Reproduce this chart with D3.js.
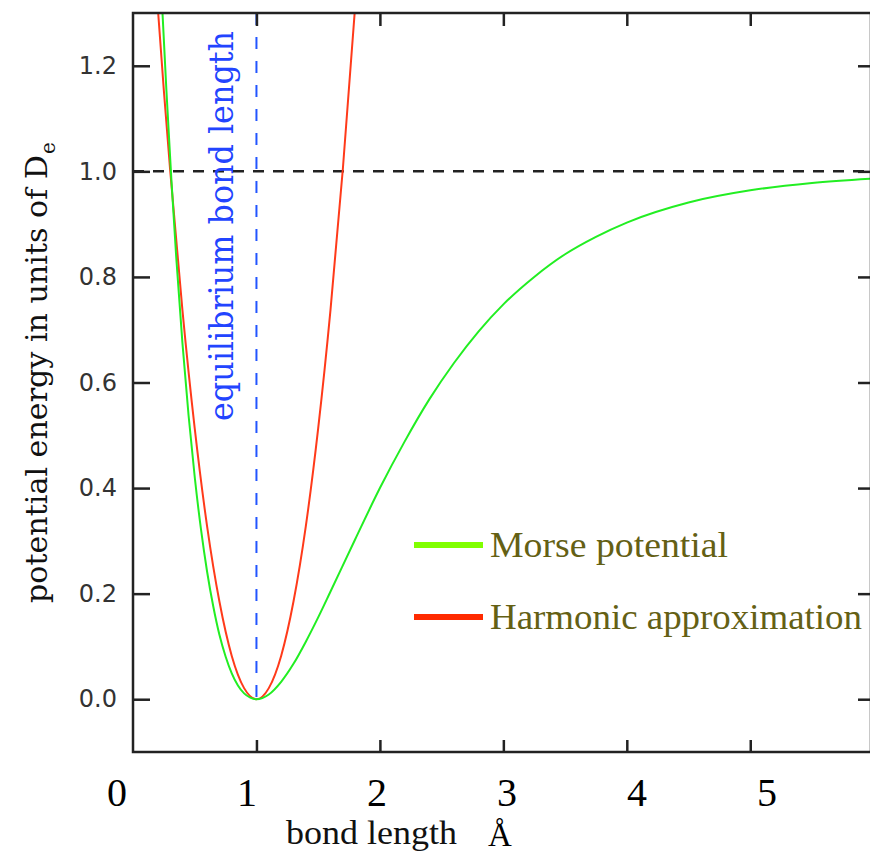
<!DOCTYPE html>
<html lang="en">
  <head>
    <meta charset="utf-8" />
    <title>Morse potential</title>
    <script src="https://d3js.org/d3.v7.min.js"></script>
    <style type="text/css">
      body { margin: 0; background: #fff; }
      svg { display: block; }
    </style>
  </head>
  <body>
    <script type="text/javascript">
      // values
      const morseR = [0.22, 0.24, 0.27, 0.31, 0.35, 0.4, 0.45, 0.5, 0.55, 0.6, 0.65, 0.7, 0.75, 0.8, 0.85, 0.9, 0.95, 1.0,
        1.1, 1.2, 1.3, 1.4, 1.5, 1.6, 1.8, 2.0, 2.2, 2.4, 2.6, 2.8, 3.0, 3.25, 3.5, 3.75, 4.0, 4.5, 5.0, 5.5, 5.97];
      const morseV = [1.395, 1.295, 1.156, 0.988, 0.838, 0.676, 0.538, 0.421, 0.323, 0.242, 0.176, 0.122, 0.081, 0.049, 0.026, 0.011, 0.003, 0.0,
        0.009, 0.033, 0.067, 0.109, 0.155, 0.204, 0.303, 0.4, 0.488, 0.568, 0.637, 0.697, 0.748, 0.8, 0.843, 0.876, 0.903, 0.941, 0.964, 0.978, 0.986];
      const harmR = [0.17, 0.19, 0.25, 0.3, 0.4, 0.5, 0.6, 0.7, 0.8, 0.9, 1.0, 1.1, 1.2, 1.3, 1.4, 1.5, 1.6, 1.7, 1.81, 1.83];
      const harmV = [1.412, 1.345, 1.153, 1.005, 0.738, 0.513, 0.328, 0.185, 0.082, 0.021, 0.0, 0.021, 0.082, 0.185, 0.328, 0.513, 0.738, 1.005, 1.345, 1.412];
      const yTicks = [0.0, 0.2, 0.4, 0.6, 0.8, 1.0, 1.2];
      const xTicks = [1, 2, 3, 4, 5];
      const xLabels = ['0', '1', '2', '3', '4', '5'];
      const xDomain = [0, 5.97];
      const yDomain = [-0.1, 1.3];
      const dissociation = 1.0;
      const equilibrium = 1.0;
      const series = [
        { name: 'Morse potential', r: morseR, v: morseV, color: '#22ee22', key: '#80ff00' },
        { name: 'Harmonic approximation', r: harmR, v: harmV, color: '#ff3a1a', key: '#ff2a00' }
      ];

      const w = 870;
      const h = 854;
      const pLeft = 133, pRight = 870, pTop = 13, pBottom = 752;

      const x = d3.scaleLinear().domain(xDomain).range([pLeft, pRight]);
      const y = d3.scaleLinear().domain(yDomain).range([pBottom, pTop]);
      // the big digits under the axis sit on their own spacing
      const xLab = d3.scaleLinear().domain([0, 5]).range([117, 767]);

      const svg = d3.select('body').append('svg').attr('width', w).attr('height', h);

      svg.append('defs').append('clipPath').attr('id', 'plot')
        .append('rect').attr('x', pLeft).attr('y', pTop).attr('width', pRight - pLeft).attr('height', pBottom - pTop);

      // dashed guide lines
      svg.append('line')
        .attr('x1', pLeft).attr('x2', pRight)
        .attr('y1', y(dissociation)).attr('y2', y(dissociation))
        .attr('stroke', '#222').attr('stroke-width', 2.5).attr('stroke-dasharray', '11,9');
      svg.append('line')
        .attr('x1', x(equilibrium)).attr('x2', x(equilibrium))
        .attr('y1', pTop).attr('y2', y(0))
        .attr('stroke', '#2255ff').attr('stroke-width', 2).attr('stroke-dasharray', '12,12');

      // curves
      const line = d3.line()
        .x(d => x(d[0]))
        .y(d => y(d[1]))
        .curve(d3.curveMonotoneX);

      svg.append('g').attr('clip-path', 'url(#plot)')
        .selectAll('path')
        .data(series.slice().reverse())
        .enter()
        .append('path')
        .attr('d', s => line(s.r.map((r, i) => [r, s.v[i]])))
        .attr('fill', 'none')
        .attr('stroke', s => s.color)
        .attr('stroke-width', 2);

      // frame and ticks
      const noLabel = () => '';
      const axes = [
        { gen: d3.axisLeft(y).tickValues(yTicks).tickSizeInner(-17).tickPadding(16).tickFormat(d3.format('.1f')), at: `translate(${pLeft},0)` },
        { gen: d3.axisRight(y).tickValues(yTicks).tickSizeInner(-12).tickFormat(noLabel), at: `translate(${pRight},0)` },
        { gen: d3.axisTop(x).tickValues(xTicks).tickSizeInner(-13).tickFormat(noLabel), at: `translate(0,${pTop})` },
        { gen: d3.axisBottom(x).tickValues(xTicks).tickSizeInner(-12).tickFormat(noLabel), at: `translate(0,${pBottom})` }
      ];
      axes.forEach(a => {
        const g = svg.append('g').attr('transform', a.at).call(a.gen.tickSizeOuter(0));
        g.select('.domain').remove();
        g.selectAll('.tick line').attr('stroke', '#222').attr('stroke-width', 2.5);
        g.selectAll('.tick text')
          .attr('fill', '#333')
          .style('font-family', 'DejaVu Sans')
          .style('font-size', '24px');
      });

      svg.append('rect')
        .attr('x', pLeft).attr('y', pTop)
        .attr('width', pRight + 1 - pLeft).attr('height', pBottom - pTop)
        .attr('fill', 'none').attr('stroke', '#222').attr('stroke-width', 2.5);

      // x tick digits
      svg.append('g').selectAll('text')
        .data(xLabels)
        .enter()
        .append('text')
        .attr('x', (d, i) => xLab(i))
        .attr('y', 806)
        .attr('text-anchor', 'middle')
        .style('font-family', 'Liberation Serif')
        .style('font-size', '40px')
        .attr('fill', '#000')
        .text(d => d);

      // axis names
      svg.append('text')
        .attr('x', 286).attr('y', 844)
        .attr('textLength', 171).attr('lengthAdjust', 'spacingAndGlyphs')
        .style('font-family', 'Liberation Serif').style('font-size', '34px')
        .attr('fill', '#111')
        .text('bond length');
      svg.append('text')
        .attr('x', 500).attr('y', 846)
        .attr('text-anchor', 'middle')
        .style('font-family', 'Liberation Serif').style('font-size', '33px')
        .attr('fill', '#000')
        .text('Å');

      svg.append('text')
        .attr('transform', 'translate(47,603) rotate(-90)')
        .attr('textLength', 448).attr('lengthAdjust', 'spacingAndGlyphs')
        .style('font-family', 'DejaVu Serif').style('font-size', '29px')
        .attr('fill', '#111')
        .text('potential energy in units of D');
      svg.append('text')
        .attr('transform', 'translate(55,154) rotate(-90)')
        .style('font-family', 'DejaVu Serif').style('font-size', '20px')
        .attr('fill', '#111')
        .text('e');

      svg.append('text')
        .attr('transform', 'translate(233,421) rotate(-90)')
        .attr('textLength', 390).attr('lengthAdjust', 'spacingAndGlyphs')
        .style('font-family', 'DejaVu Serif').style('font-size', '33px')
        .attr('fill', '#2244ff')
        .text('equilibrium bond length');

      // legend
      const legend = svg.append('g')
        .selectAll('g')
        .data(series)
        .enter()
        .append('g')
        .attr('transform', (d, i) => `translate(414, ${545 + i * 72})`);
      legend.append('line')
        .attr('x1', 0).attr('x2', 69)
        .attr('stroke', d => d.key).attr('stroke-width', 6);
      legend.append('text')
        .attr('x', 76).attr('y', 12)
        .attr('textLength', (d, i) => [238, 372][i]).attr('lengthAdjust', 'spacingAndGlyphs')
        .style('font-family', 'Liberation Serif').style('font-size', '36px')
        .attr('fill', '#646014')
        .text(d => d.name);
    </script>
  </body>
</html>
